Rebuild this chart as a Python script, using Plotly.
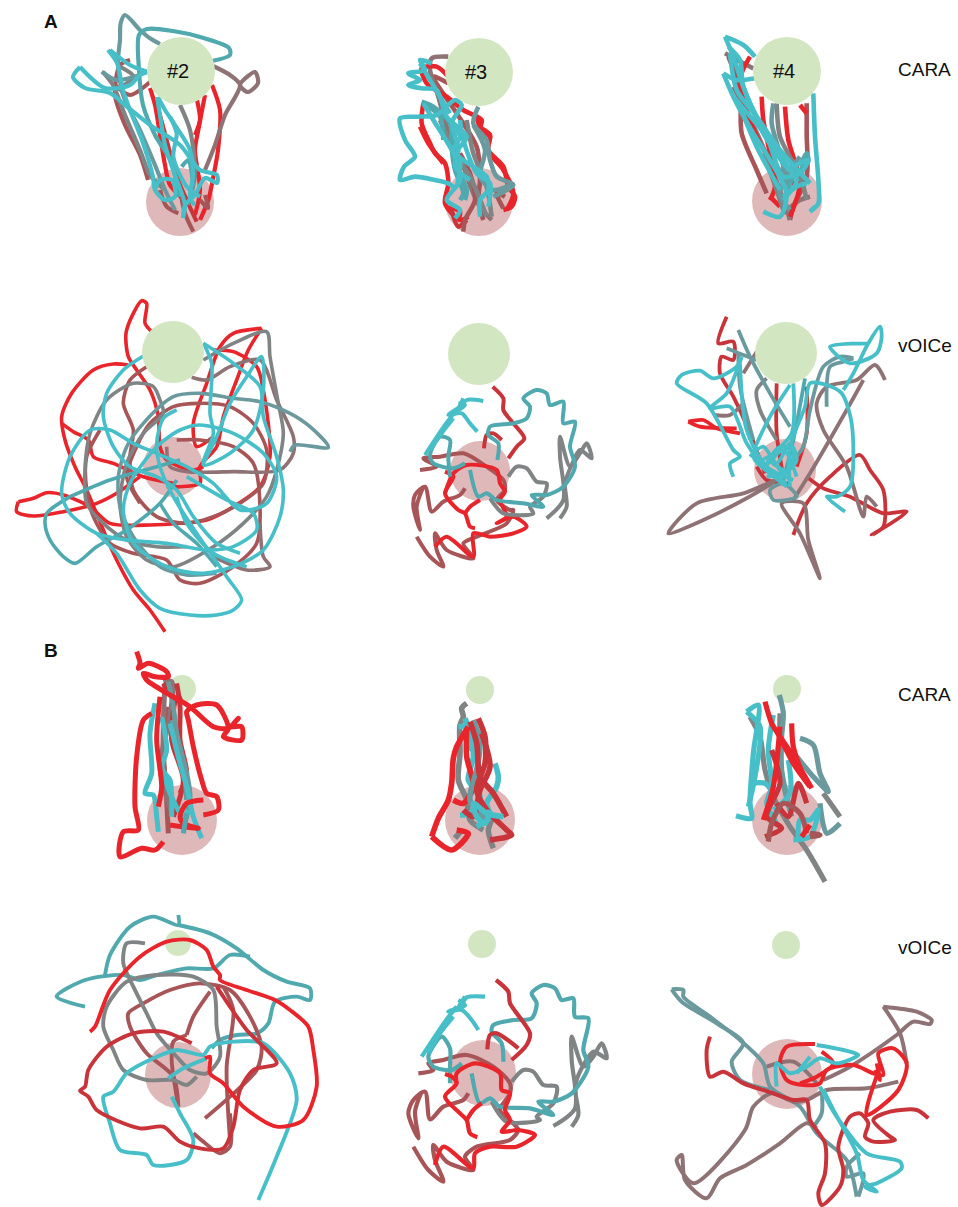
import plotly.graph_objects as go

COLORS = dict(red="#E9242A", dred="#C9343A", brick="#A85558", taupe="#8E7274", gray="#808484",
              slate="#6A9A9E", teal="#4FA9AE", cyan="#47BFC9")
ORIGIN = dict(a1=(0, 0), a2=(380, 20), a3=(700, 20), a4=(0, 290), a5=(390, 310), a6=(650, 300),
              b1=(100, 640), b2=(410, 670), b3=(730, 670), b4=(30, 900), b5=(390, 920), b6=(650, 920))
WIDTH = dict(a1=4.2, a2=4.6, a3=4.6, a4=3.6, a5=4, a6=3.8, b1=5, b2=5.6, b3=5.2, b4=3.9, b5=4.2, b6=4)

# ---- A, CARA #2
a1_red_1 = [636,255, 660,330, 654,450, 640,530, 625,600, 600,660]
a1_red_2 = [615,285, 595,390, 585,450, 600,570, 585,645]
a1_red_3 = [591,300, 600,360, 585,405]
a1_red_4 = [450,264, 465,315, 480,405, 495,495, 510,555, 570,615]
a1_dred_1 = [470,310, 500,420, 530,530, 560,600, 590,665]
a1_brick_1 = [390,180, 360,195, 345,285, 375,375, 420,465, 444,540]
a1_brick_2 = [450,246, 390,285, 345,255]
a1_brick_3 = [615,585, 624,624, 600,600]
a1_brick_4 = [540,570, 555,640, 580,695]
a1_brick_5 = [480,570, 500,620, 535,640]
a1_taupe_1 = [639,198, 690,225, 720,255, 675,345, 645,435, 615,510]
a1_taupe_2 = [720,255, 765,216, 774,249, 744,276, 720,255]
a1_gray_1 = [309,216, 339,255, 375,345, 420,450, 450,525, 495,570]
a1_gray_2 = [540,315, 570,390, 585,525, 564,615]
a1_gray_3 = [360,200, 400,230, 345,270]
a1_slate_1 = [480,132, 450,115, 420,90, 375,45, 362,70, 360,120, 354,186, 369,285, 420,390, 465,495, 495,570, 525,630]
a1_slate_2 = [305,215, 350,240, 420,225]
a1_teal_1 = [636,183, 690,165, 687,144, 600,111, 519,93, 441,87, 417,105, 417,210, 429,315, 465,405, 510,480, 540,590]
a1_teal_2 = [545,500, 565,480, 580,560]
a1_cyan_1 = [324,150, 351,189, 369,270, 390,330, 429,429, 459,531, 465,570, 495,600, 525,590, 516,540, 480,540, 465,570]
a1_cyan_2 = [444,216, 390,195, 330,150]
a1_cyan_3 = [240,201, 219,231, 255,264, 330,279, 375,315, 450,375, 540,435, 600,510, 651,525, 651,549, 615,534, 585,585, 555,615, 549,654]
a1_cyan_4 = [240,201, 315,264, 390,255, 420,225, 444,216]
a1_cyan_5 = [474,291, 495,330, 525,375, 570,450, 579,525, 570,594, 585,615]
a1_cyan_6 = [471,291, 480,345, 495,435, 525,525, 555,615, 549,654]
a1_cyan_7 = [510,350, 530,400, 520,470, 560,560, 600,590]

# ---- A, CARA #3
a2_brick_3 = [205,190, 160,170, 230,280, 290,380, 300,480, 295,540, 310,600]
a2_taupe_1 = [205,110, 155,115, 150,150, 175,230, 200,320, 250,440, 280,520, 300,560, 335,600]
a2_red_1 = [205,170, 170,140, 125,145, 140,190, 200,230, 250,270, 305,300, 300,330, 330,350, 320,390, 345,420, 370,450, 400,520, 380,570]
a2_red_2 = [130,250, 125,310, 150,370, 165,400, 195,430, 205,490, 195,550, 240,600, 265,590]
a2_red_3 = [205,560, 240,575, 235,600]
a2_red_4 = [290,290, 300,320, 330,345, 325,390, 370,440, 385,500, 405,530, 395,560, 370,570]
a2_red_5 = [120,320, 145,370, 190,430]
a2_dred_1 = [215,570, 235,620, 260,600]
a2_brick_1 = [250,635, 255,600, 285,540, 270,460, 240,400]
a2_brick_2 = [370,565, 350,520, 375,530]
a2_gray_1 = [180,300, 230,410, 270,470, 320,590]
a2_gray_2 = [260,300, 280,400, 320,500, 335,590]
a2_slate_1 = [295,260, 280,310, 320,360, 330,420, 350,470, 400,495, 340,530]
a2_slate_2 = [280,315, 315,390, 300,470, 340,510, 400,490]
a2_teal_1 = [125,245, 160,260, 210,310, 220,380, 230,440, 260,510, 255,540]
a2_teal_2 = [215,300, 215,380, 225,450, 250,520, 240,540]
a2_teal_3 = [130,250, 180,290, 190,360]
a2_cyan_1 = [225,505, 205,490, 165,480, 105,470, 60,480, 72,440, 105,410, 75,360, 60,295, 110,290, 170,285, 225,240, 245,255, 215,310, 240,350, 220,390, 240,430, 230,500]
a2_cyan_2 = [155,130, 120,120, 135,150, 85,160, 120,180, 85,195, 125,205, 170,210, 200,290, 260,350, 230,400, 320,470, 325,510, 300,540, 300,590]
a2_cyan_3 = [130,250, 160,300, 220,400, 240,480, 200,540, 240,570, 225,595]
a2_cyan_4 = [240,300, 250,360, 290,460, 330,490, 325,560]
a2_cyan_5 = [215,320, 235,390, 225,440, 270,480]
a2_cyan_6 = [120,130, 180,230, 210,280]

# ---- A, CARA #4
a3_brick_1 = [85,110, 120,210, 125,340, 170,450, 200,520]
a3_brick_2 = [320,250, 320,340, 320,470, 280,560, 270,600]
a3_taupe_1 = [75,100, 130,130, 160,145]
a3_taupe_2 = [100,200, 180,360, 250,540, 270,600]
a3_taupe_3 = [250,580, 300,540, 330,530]
a3_red_1 = [150,110, 120,180, 170,350, 220,430, 290,500]
a3_red_2 = [185,230, 190,300, 225,500, 210,540]
a3_red_3 = [255,260, 265,360, 300,490, 270,590]
a3_red_4 = [300,255, 320,280]
a3_red_5 = [210,530, 240,560]
a3_gray_1 = [230,250, 240,350, 280,430, 310,500, 320,540]
a3_gray_2 = [190,400, 230,510, 250,570]
a3_slate_1 = [220,250, 215,310, 240,400, 265,500]
a3_slate_2 = [300,410, 270,450, 240,520, 270,570]
a3_teal_1 = [300,440, 320,400, 325,425, 280,470, 260,520]
a3_cyan_1 = [75,50, 100,110, 130,200, 190,340, 250,430, 290,480, 250,540]
a3_cyan_2 = [75,50, 130,75, 165,110]
a3_cyan_3 = [70,160, 100,230, 160,340, 210,420, 260,520, 240,590, 190,575]
a3_cyan_4 = [90,100, 110,210, 170,290, 240,390, 330,490]
a3_cyan_5 = [70,160, 110,180, 165,175]
a3_cyan_6 = [100,230, 160,300, 200,350, 250,470, 300,460, 325,420, 280,440]
a3_cyan_7 = [340,220, 345,350, 355,480, 355,550, 330,575, 345,560]
a3_cyan_8 = [85,80, 120,120, 130,200, 220,380, 290,470]
a3_cyan_9 = [250,530, 290,500, 320,490]
a3_cyan_10 = [120,260, 170,380, 240,510]

# ---- A, vOICe first
a4_red_1 = [455,125, 435,100, 440,40, 425,32, 400,70, 378,130, 385,200, 410,240, 450,300, 475,380, 480,470, 500,510, 580,540, 610,530]
a4_red_2 = [385,225, 340,222, 280,240, 215,310, 185,380, 195,450, 225,530, 260,600, 310,720, 350,810, 400,900, 450,960, 495,1025]
a4_red_3 = [785,115, 700,130, 660,170, 620,280, 580,400, 590,470, 640,440]
a4_red_4 = [785,115, 745,180, 710,270, 670,380, 650,470, 600,530, 600,580, 540,590, 500,590]
a4_red_5 = [185,400, 220,425, 265,450, 280,500, 340,520, 430,560, 520,580]
a4_red_6 = [55,635, 50,665, 100,678, 190,665, 290,640, 350,610, 420,560]
a4_red_7 = [55,635, 100,625, 140,608, 190,615, 270,650, 330,700, 450,705, 540,700, 620,690, 700,650, 780,590, 810,500, 790,300, 770,230, 700,185, 640,180]
a4_brick_1 = [440,230, 390,270, 370,340, 400,420, 390,500, 400,600, 470,680, 560,700, 640,680, 720,640, 790,580, 800,480, 760,400, 690,350, 600,340, 520,350, 450,400, 410,470, 380,560, 420,640]
a4_brick_2 = [530,450, 600,450, 700,470, 760,520, 780,650, 770,760, 700,830, 600,880, 540,870, 500,810, 400,790, 330,760, 280,680, 260,600, 260,500, 300,420]
a4_taupe_1 = [575,262, 620,270, 690,230, 780,210, 830,330, 880,440, 880,490, 840,540, 700,545, 560,545, 510,530, 500,470]
a4_taupe_2 = [780,700, 790,800, 810,830, 740,840, 640,800]
a4_gray_1 = [610,210, 700,160, 800,125, 810,200, 835,340, 850,430, 830,540, 800,620, 730,700, 640,770, 520,830, 440,810, 380,740, 360,640, 380,520, 430,430, 490,370, 480,330, 460,290, 400,280, 320,330, 270,430, 255,540, 260,640, 310,700, 380,750, 470,770, 560,770]
a4_slate_1 = [870,485, 885,465, 985,472, 930,410, 870,370, 780,335, 700,325, 600,310, 520,320, 430,400, 380,470, 355,560, 360,650, 400,740, 480,830, 560,855, 650,850]
a4_teal_1 = [210,620, 140,670, 135,700, 150,750, 190,800, 225,820, 290,770, 380,720, 480,640, 530,570]
a4_teal_2 = [210,620, 330,570, 470,530, 540,510]
a4_teal_3 = [480,640, 520,700, 590,760, 650,830]
a4_cyan_1 = [435,195, 370,240, 320,310, 310,380, 340,470, 390,530, 470,560, 530,600, 580,680, 650,760, 720,790]
a4_cyan_2 = [610,160, 700,220, 780,290, 790,380, 830,500, 850,600, 840,680, 790,780, 700,830, 600,850, 500,830, 400,760, 370,660, 390,580, 470,470, 540,420, 600,405, 700,430, 790,490, 830,560, 800,640, 720,660, 640,580, 560,530, 470,490, 400,460, 330,420, 270,420, 210,500, 185,610, 210,670, 290,730, 380,750, 500,760, 620,780, 700,770, 770,720, 760,670, 680,630, 560,560]
a4_cyan_3 = [610,160, 635,220, 630,370, 640,430, 610,525, 690,490, 760,420, 790,300, 785,200, 740,260, 690,340, 650,440, 610,520]
a4_cyan_4 = [530,360, 490,385, 470,460, 480,530, 520,620, 590,730, 680,860, 725,930, 700,960, 650,975, 570,975, 480,955, 420,900, 350,790, 290,730]
a4_cyan_5 = [530,620, 560,700, 640,790, 740,830]

# ---- A, vOICe second
a5_brick_1 = [90,480, 140,470, 100,445, 150,440, 220,430, 290,470, 340,510, 345,540, 320,570, 360,600, 370,600, 350,640, 260,680, 220,700, 250,745, 170,720, 135,670, 140,720, 160,770, 120,740, 80,680]
a5_brick_2 = [225,535, 210,555, 160,575, 125,605, 105,530, 75,555, 70,590, 90,660, 80,590, 100,530]
a5_dred_1 = [308,230, 340,265, 340,300, 370,340, 403,385, 380,410, 355,445]
a5_dred_2 = [282,415, 290,375, 310,370, 335,390]
a5_red_1 = [165,485, 190,500, 165,550, 205,600, 225,610, 240,650, 255,655]
a5_red_2 = [225,610, 240,590, 270,570]
a5_red_3 = [165,550, 190,490, 230,465, 320,480, 330,520, 345,545, 330,570, 350,620, 320,640, 370,620, 410,650, 370,670, 300,680, 250,670, 250,740, 170,680, 135,710]
a5_gray_1 = [355,500, 380,470, 410,475, 440,515, 470,520, 460,560, 420,590, 430,610, 340,610, 300,565]
a5_gray_2 = [470,625, 520,570, 510,440, 510,380, 540,470, 570,430, 590,400, 605,445, 570,420, 545,465, 525,520, 530,590, 510,625]
a5_teal_1 = [225,460, 190,475, 130,460, 120,435, 150,380, 180,390, 175,440, 180,500]
a5_teal_2 = [322,450, 325,400, 295,375, 300,350, 370,340, 410,325, 420,290, 400,265, 440,240, 470,250, 480,285, 520,275, 520,340, 555,335, 540,410, 555,470, 520,530, 470,555, 425,555, 460,590, 400,580, 320,570, 290,550, 265,560, 240,480]
a5_cyan_1 = [280,273, 230,270, 210,290, 175,315, 215,310, 240,340, 262,365]
a5_cyan_2 = [200,300, 165,345, 105,435]
a5_cyan_3 = [190,325, 155,370, 120,420]
a5_cyan_4 = [220,265, 205,300, 225,285, 205,280]

# ---- A, vOICe third
a6_dred_1 = [230,50, 205,130, 250,125, 250,180, 215,170, 210,220, 250,290, 300,400, 345,520]
a6_dred_2 = [380,250, 380,400, 400,530]
a6_red_1 = [115,365, 160,360, 200,385, 270,400]
a6_red_2 = [115,365, 150,380, 260,385]
a6_red_3 = [470,260, 470,400, 440,500]
a6_dred_3 = [430,705, 470,610, 540,530, 630,465, 660,510, 700,570, 700,680, 665,705, 770,635, 700,640, 600,590, 520,565, 470,530]
a6_dred_4 = [320,500, 350,540, 420,550]
a6_taupe_1 = [55,700, 140,610, 280,580, 380,540, 280,600, 160,660, 55,700]
a6_taupe_2 = [510,835, 450,700, 395,610, 460,610, 475,720, 510,835]
a6_taupe_3 = [190,345, 240,345, 280,310]
a6_taupe_4 = [280,220, 320,155]
a6_taupe_5 = [705,240, 675,195, 620,240, 530,260, 500,310, 520,390, 590,500, 640,650, 650,590, 680,620]
a6_taupe_6 = [640,240, 590,330, 480,520, 430,600]
a6_gray_1 = [350,235, 320,270, 330,330, 380,420]
a6_slate_1 = [265,90, 300,170, 360,280, 420,380]
a6_slate_2 = [610,175, 570,170, 520,200, 480,330, 460,440, 420,490]
a6_slate_3 = [610,175, 580,185, 540,200, 530,320]
a6_slate_4 = [230,145, 280,165, 320,180]
a6_slate_5 = [370,600, 360,570, 400,550, 440,590, 370,600]
a6_slate_6 = [265,160, 270,260, 310,420]
a6_teal_1 = [465,235, 430,420, 400,540]
a6_cyan_1 = [585,635, 530,590, 560,590, 600,560, 605,370, 575,280, 530,255, 480,250, 465,320, 420,440, 420,560]
a6_cyan_2 = [655,130, 540,140, 600,190, 680,160, 695,110, 690,80, 655,130, 610,220, 580,270]
a6_cyan_3 = [250,530, 240,490, 270,470, 250,450, 170,310, 80,250, 95,225, 150,212, 190,235, 260,200, 275,170]
a6_cyan_4 = [275,170, 230,280, 180,325, 240,320, 290,430, 350,510, 410,560]
a6_cyan_5 = [270,190, 290,390, 350,500, 430,540]
a6_cyan_6 = [420,255, 360,350, 310,470, 340,500, 400,450, 440,530]
a6_cyan_7 = [430,250, 425,400, 360,480, 410,520, 350,530]
a6_cyan_8 = [300,470, 340,440, 380,490, 420,430, 440,480, 400,520, 360,470, 330,490, 380,530, 420,500, 430,450, 390,440, 350,500, 410,550]

# ---- B, CARA first
b1_brick_1 = [200,200, 190,320, 200,480, 205,580]
b1_taupe_1 = [190,125, 215,125, 210,230, 180,380, 215,520]
b1_taupe_2 = [195,130, 190,250, 190,370, 210,500]
b1_dred_1 = [230,130, 240,200, 240,300, 260,400, 240,460]
b1_dred_2 = [190,130, 225,175, 245,170]
b1_dred_3 = [225,180, 215,300, 250,420, 220,530]
b1_slate_1 = [205,125, 220,200, 230,280, 260,400, 270,470, 250,570]
b1_slate_2 = [215,240, 250,370, 260,480]
b1_cyan_1 = [165,190, 150,280, 155,400, 135,460, 160,465, 170,530, 175,575]
b1_cyan_2 = [185,230, 200,330, 185,385, 210,420, 215,470, 215,530]
b1_cyan_3 = [210,250, 240,370, 260,440, 280,530, 305,595]
b1_cyan_4 = [185,380, 210,460, 250,530, 265,510]
b1_red_1 = [110,35, 120,70, 115,85, 145,70, 200,95, 205,110, 165,110, 130,100, 140,120, 210,165, 270,200, 340,260, 385,265, 415,235, 395,260, 425,260, 425,300, 370,290, 385,265, 350,195, 290,195, 260,215, 265,240, 280,320, 305,420, 320,460, 350,470, 355,510, 310,525]
b1_red_2 = [155,220, 130,240, 110,350, 105,500, 115,570, 70,575, 60,650, 125,625, 165,630, 190,605]
b1_red_3 = [180,170, 170,300, 185,440, 175,500]
b1_red_4 = [310,480, 260,490, 240,530, 250,550, 295,565, 210,555]
b1_teal_1 = [250,580, 260,520]

# ---- B, CARA second
b2_gray_1 = [170,100, 155,115, 160,140, 150,165, 150,250, 145,330, 170,390, 180,450, 220,480]
b2_gray_2 = [250,535, 235,480, 250,440]
b2_gray_3 = [135,505, 155,480]
b2_cyan_1 = [165,145, 180,190, 190,260, 175,330, 210,380, 180,430, 150,435]
b2_cyan_2 = [255,280, 265,320, 260,350, 230,400, 240,440, 200,470]
b2_cyan_4 = [145,170, 190,170, 205,190, 175,240]
b2_red_1 = [65,500, 85,445, 115,390, 125,340, 130,265, 140,230, 175,170]
b2_red_2 = [65,500, 125,540, 175,490, 140,480]
b2_red_3 = [170,180, 170,260, 190,350, 160,400, 130,390]
b2_slate_1 = [190,150, 210,220, 200,300, 180,390, 230,450]
b2_dred_1 = [205,145, 225,200, 225,280, 200,360, 230,420, 290,480, 305,495, 240,510]
b2_dred_2 = [180,155, 200,220, 210,320, 250,370, 290,440]
b2_dred_3 = [215,190, 240,290, 210,360, 190,440, 160,420]
b2_cyan_3 = [240,420, 225,460, 200,440, 190,400, 230,430, 280,440]

# ---- B, CARA third
b3_gray_1 = [60,140, 90,200, 105,300, 130,380, 180,470, 230,540, 285,635]
b3_gray_2 = [330,440, 280,370]
b3_gray_3 = [150,130, 150,260, 160,340, 185,440]
b3_slate_1 = [148,75, 160,130, 155,200, 155,300, 180,420]
b3_slate_2 = [210,205, 250,225, 270,310, 295,365, 250,320, 200,260]
b3_slate_3 = [330,460, 290,490, 270,400]
b3_cyan_1 = [50,125, 85,105, 70,250, 60,400, 65,445, 18,437]
b3_cyan_2 = [50,125, 90,170, 75,320, 55,410]
b3_cyan_3 = [130,135, 115,240, 125,350, 110,400, 140,460]
b3_cyan_4 = [175,270, 180,370, 130,420]
b3_cyan_5 = [190,510, 240,500, 265,420, 240,450, 210,450, 205,510]
b3_cyan_6 = [60,340, 105,340, 130,370]
b3_dred_1 = [125,240, 150,340, 110,440, 155,475, 105,500]
b3_dred_2 = [140,400, 175,440, 205,340, 230,400]
b3_brick_1 = [115,515, 125,460, 160,400, 210,430, 230,490]
b3_brick_2 = [240,490, 270,495, 240,500]
b3_red_1 = [105,95, 125,160, 150,200, 190,260, 245,355]
b3_red_2 = [150,170, 130,350, 100,450]
b3_red_3 = [185,160, 190,230, 220,320]
b3_red_4 = [215,500, 240,465]
b3_red_5 = [140,180, 190,280, 240,350]

# ---- B, vOICe first
b4_teal_1 = [165,320, 80,290, 165,240, 280,225, 330,240, 380,225, 470,205, 550,205, 600,165, 660,170]
b4_teal_2 = [445,45, 445,75, 370,50, 300,80, 240,165, 225,225]
b4_teal_3 = [445,75, 540,100, 620,145, 700,210, 770,245, 840,265, 840,300, 800,290, 735,305, 715,370, 680,400, 620,405, 570,420, 545,445]
b4_brick_1 = [525,655, 600,590, 680,510, 695,440, 660,350, 600,270, 510,250, 420,270, 340,310, 295,340, 300,380, 350,460, 430,530, 445,620]
b4_brick_2 = [470,405, 490,350, 540,275]
b4_brick_3 = [470,405, 430,425, 425,480, 445,620]
b4_brick_4 = [600,720, 590,500, 610,330, 580,260]
b4_brick_5 = [490,700, 520,725, 570,760, 600,740, 600,640]
b4_gray_1 = [345,130, 290,130, 280,190, 310,260, 350,340, 380,400, 440,470, 480,510, 530,520, 570,470, 560,380, 550,270, 490,230, 380,225, 290,245, 230,320, 220,380, 250,450, 280,510, 350,540, 430,540, 470,555, 500,530]
b4_cyan_1 = [685,900, 740,770, 800,600, 780,520, 700,430, 610,425, 540,440, 520,465, 440,450, 370,475, 290,520, 250,575, 220,590, 240,670, 270,750, 350,765, 370,795, 470,780, 490,720, 450,640, 425,590]
b4_cyan_2 = [415,535, 460,505, 530,475]
b4_dred_1 = [485,430, 400,395, 310,400, 230,440, 175,510, 165,560, 150,572, 175,590, 200,630, 330,685, 400,680, 450,725, 510,745, 580,745, 610,680, 630,570, 670,510, 740,490, 650,390, 600,320, 560,260]
b4_red_1 = [180,395, 195,380, 240,270, 330,170, 410,125, 480,120, 530,150, 550,200, 570,225, 570,240, 650,270, 735,300, 780,330, 835,380, 850,450, 860,560, 820,660, 740,680, 640,620, 580,550, 540,520, 540,470, 525,475]

# ---- B, vOICe second
b5_brick_1 = [85,460, 130,450, 115,430, 160,420, 230,405, 310,440, 360,490, 360,520, 330,570, 370,610, 385,630, 360,660, 260,680, 225,710, 250,750, 170,725, 130,675, 135,720, 160,785, 115,750, 70,680]
b5_brick_2 = [235,520, 220,540, 160,560, 120,598, 105,515, 70,540, 55,580, 85,655, 75,575, 95,515]
b5_gray_1 = [365,485, 400,450, 430,455, 460,495, 500,500, 490,550, 440,590, 450,600, 350,605, 305,545]
b5_gray_2 = [490,618, 555,565, 545,420, 545,350, 580,440, 610,410, 635,370, 650,415, 610,395, 575,445, 555,500, 565,585, 545,620]
b5_teal_1 = [215,430, 185,450, 130,440, 115,410, 155,350, 180,385, 180,440, 180,490]
b5_teal_2 = [340,425, 335,370, 305,335, 310,315, 370,300, 425,295, 440,250, 425,220, 460,195, 495,205, 515,240, 550,235, 555,290, 595,295, 580,390, 595,440, 545,520, 490,545, 445,545, 490,585, 420,565, 330,560, 300,535, 270,550, 245,460]
b5_cyan_1 = [285,230, 230,232, 210,260, 175,275, 215,270, 245,300, 265,330]
b5_cyan_2 = [200,260, 165,305, 95,410]
b5_cyan_3 = [190,290, 150,340, 115,400]
b5_cyan_4 = [225,230, 205,265, 225,255, 205,240]
b5_dred_1 = [318,180, 355,215, 360,250, 420,340, 410,375, 365,420]
b5_dred_2 = [292,388, 300,345, 320,340, 385,385]
b5_red_1 = [165,462, 185,470, 200,490, 165,530, 210,580, 230,600, 240,640, 262,652]
b5_red_2 = [230,600, 250,570, 275,550]
b5_red_3 = [200,490, 200,460, 255,430, 330,460, 335,510, 360,520, 345,570, 360,600, 335,635, 385,630, 435,645, 380,680, 300,680, 255,700, 250,745, 160,680, 135,735]

# ---- B, vOICe third
b6_slate_1 = [65,208, 100,210, 100,230, 180,290, 270,360, 340,430, 360,500, 450,560, 500,640, 590,720, 620,830]
b6_slate_2 = [65,208, 95,245, 200,310, 280,370, 245,425, 270,480, 360,510]
b6_slate_3 = [515,510, 515,580, 490,620]
b6_slate_4 = [630,700, 590,740, 590,770, 640,760, 625,830]
b6_taupe_1 = [745,485, 650,505, 530,510, 470,540, 430,545, 365,520, 310,560, 285,630, 130,790, 80,720, 95,705, 105,780, 170,835, 210,775, 290,735, 390,670, 470,610, 500,625]
b6_taupe_2 = [350,440, 430,425, 500,490]
b6_taupe_3 = [700,260, 800,275, 845,300, 840,312, 790,305, 740,345, 600,440, 520,480]
b6_taupe_4 = [700,260, 750,340, 770,430]
b6_dred_1 = [180,350, 170,390, 180,470, 220,455, 280,490, 355,515, 430,540, 470,540, 480,600, 525,670, 525,760, 505,820, 515,855, 570,800, 580,750, 565,680, 600,590, 630,580, 655,610, 645,650, 670,665, 735,660, 720,650, 670,600, 720,575, 800,570, 835,595]
b6_red_1 = [495,372, 410,380, 390,425, 410,480, 460,495, 510,490, 530,450, 610,435, 670,460, 700,465, 685,400, 730,385, 770,430, 745,510, 650,585, 690,440]
b6_red_2 = [515,395, 550,430, 500,470, 450,490]
b6_red_3 = [680,430, 690,480, 675,450]
b6_cyan_1 = [500,375, 580,390, 625,405, 560,430, 510,415, 470,440, 420,460, 380,430, 380,500]
b6_cyan_2 = [510,500, 560,590, 650,700, 750,725, 755,745, 680,790, 645,800, 680,815, 640,780, 620,700, 550,570, 520,510]
b6_cyan_3 = [440,460, 480,410]

# Targets: panel centre x, y, radius
green_a = dict(x=[181, 479, 787, 173, 479, 786], y=[71, 72, 71, 352, 354, 353], r=[34, 34, 34, 31, 31, 31])
pink_a = dict(x=[180, 479, 787, 173, 480, 785], y=[202, 202, 201, 467, 471, 470], r=[34, 34, 35, 30, 30, 31])
green_b = dict(x=[182, 480, 787, 178, 482, 786], y=[689, 690, 689, 943, 944, 945], r=[14, 14, 14, 13, 14, 14])
pink_b = dict(x=[182, 480, 787, 178, 483, 787], y=[820, 820, 820, 1075, 1073, 1074], r=[35, 35, 35, 33, 33, 35])
GREEN, PINK = "#D3E6C2", "#DFB9BA"

row_labels = ["CARA", "vOICe", "CARA", "vOICe"]
row_label_x = [896, 896, 896, 896]
row_label_y = [69, 345, 694, 947]
panel_letters = ["A", "B"]
panel_letter_y = [21, 650]
cue_labels = ["#2", "#3", "#4"]


def circles(spec, color):
    return go.Scatter(x=spec["x"], y=spec["y"], mode="markers", hoverinfo="skip", showlegend=False,
                      marker=dict(size=[2 * r for r in spec["r"]], color=color, opacity=1, line=dict(width=0)))


fig = go.Figure()
fig.add_trace(circles(pink_a, PINK))
fig.add_trace(circles(pink_b, PINK))
fig.add_trace(circles(green_b, GREEN))

for name, vals in list(globals().items()):
    parts = name.split("_")
    if len(parts) == 3 and parts[0] in ORIGIN and parts[1] in COLORS:
        ox, oy = ORIGIN[parts[0]]
        fig.add_trace(go.Scatter(
            x=[ox + v / 3 for v in vals[0::2]], y=[oy + v / 3 for v in vals[1::2]],
            mode="lines", hoverinfo="skip", showlegend=False,
            line=dict(color=COLORS[parts[1]], width=WIDTH[parts[0]], shape="spline", smoothing=0.8)))

fig.add_trace(circles(green_a, GREEN))

for t, x, y in zip(row_labels, row_label_x, row_label_y):
    fig.add_annotation(x=x, y=y, text=t, showarrow=False, xanchor="left", yanchor="middle",
                       font=dict(size=19, color="#111111"))
for t, y in zip(panel_letters, panel_letter_y):
    fig.add_annotation(x=42, y=y, text="<b>%s</b>" % t, showarrow=False, xanchor="left", yanchor="middle",
                       font=dict(size=19, color="#111111"))
for t, x, y in zip(cue_labels, green_a["x"], green_a["y"]):
    fig.add_annotation(x=x - 3, y=y, text=t, showarrow=False, font=dict(size=20, color="#111111"))

fig.update_xaxes(range=[0, 958], visible=False, fixedrange=True)
fig.update_yaxes(range=[1207, 0], visible=False, fixedrange=True)
fig.update_layout(width=958, height=1207, margin=dict(l=0, r=0, t=0, b=0), plot_bgcolor="white",
                  paper_bgcolor="white", font=dict(family="Liberation Sans, Arial, sans-serif"),
                  showlegend=False)
fig.write_html("out.html", post_script="document.body.style.margin='0';document.body.style.overflow='hidden';",
               config=dict(displayModeBar=False))
